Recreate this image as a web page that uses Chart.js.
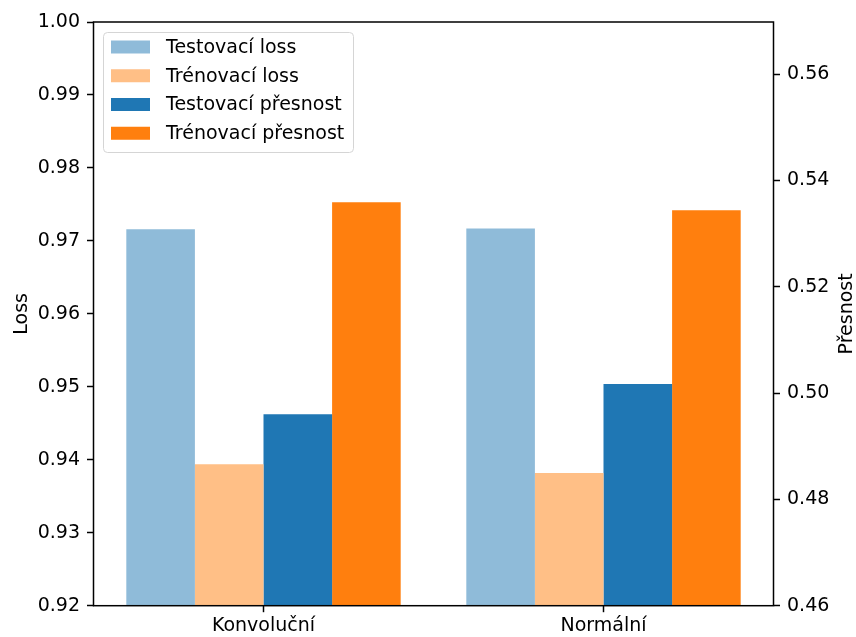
<!DOCTYPE html>
<html>
<head>
<meta charset="utf-8">
<script src="https://cdn.jsdelivr.net/npm/chart.js@4.4.1/dist/chart.umd.min.js"></script>
<style>
  html, body { margin: 0; padding: 0; background: #fff; }
</style>
</head>
<body>
<canvas id="chart" width="856" height="637"></canvas>
<script>
const categories = ['Konvoluční', 'Normální'];
const testLoss = [0.9716, 0.9717];
const trainLoss = [0.9394, 0.9382];
const testAcc = [0.4960, 0.5017];
const trainAcc = [0.5359, 0.5344];
const lossTicks = [0.92, 0.93, 0.94, 0.95, 0.96, 0.97, 0.98, 0.99, 1.00];
const accTicks = [0.46, 0.48, 0.50, 0.52, 0.54, 0.56];

const FONT = '"DejaVu Sans", sans-serif';
const FS = 19;

// frame, legend box and rotated axis titles
const decorations = {
  id: 'decorations',
  afterDatasetsDraw(chart) {
    const { ctx, chartArea: a } = chart;
    ctx.save();
    ctx.strokeStyle = '#000';
    ctx.lineWidth = 1.5;
    ctx.strokeRect(a.left, a.top, a.right - a.left, a.bottom - a.top);
    ctx.restore();
  },
  afterDraw(chart) {
    const { ctx, chartArea: a } = chart;
    const midY = (a.top + a.bottom) / 2;
    ctx.save();
    ctx.font = `${FS}px ${FONT}`;
    ctx.fillStyle = '#000';
    ctx.textAlign = 'center';
    ctx.textBaseline = 'alphabetic';
    [['Loss', 26.7], ['Přesnost', 851.5]].forEach(([text, x]) => {
      ctx.save();
      ctx.translate(x, midY);
      ctx.rotate(-Math.PI / 2);
      ctx.fillText(text, 0, 0);
      ctx.restore();
    });

    // legend
    ctx.beginPath();
    ctx.roundRect(103.5, 32.5, 250, 120, 4);
    ctx.fillStyle = 'rgba(255,255,255,0.8)';
    ctx.fill();
    ctx.strokeStyle = '#d5d5d5';
    ctx.lineWidth = 1;
    ctx.stroke();
    ctx.textAlign = 'left';
    ctx.textBaseline = 'middle';
    chart.data.datasets.forEach((ds, i) => {
      const cy = 47 + i * 28.75;
      ctx.fillStyle = ds.backgroundColor;
      ctx.fillRect(111, cy - 6.5, 39, 13);
      ctx.fillStyle = '#000';
      ctx.fillText(ds.label, 166, cy + 1);
    });
    ctx.restore();
  }
};

const tickGrid = {
  display: true,
  drawOnChartArea: false,
  drawTicks: true,
  tickLength: 6.5,
  tickWidth: 1.5,
  tickColor: '#000'
};

new Chart(document.getElementById('chart'), {
  type: 'bar',
  data: {
    labels: categories,
    datasets: [
      { label: 'Testovací loss', data: testLoss, backgroundColor: '#8fbbd9', yAxisID: 'y' },
      { label: 'Trénovací loss', data: trainLoss, backgroundColor: '#ffbf86', yAxisID: 'y' },
      { label: 'Testovací přesnost', data: testAcc, backgroundColor: '#1f77b4', yAxisID: 'y1' },
      { label: 'Trénovací přesnost', data: trainAcc, backgroundColor: '#ff7f0e', yAxisID: 'y1' }
    ]
  },
  options: {
    responsive: false,
    animation: false,
    categoryPercentage: 0.807,
    barPercentage: 1.0,
    layout: { padding: { top: 22, left: 0, right: 0, bottom: 0 } },
    plugins: {
      legend: { display: false },
      tooltip: { enabled: false }
    },
    scales: {
      x: {
        grid: { ...tickGrid, offset: false },
        border: { display: false },
        ticks: { color: '#000', font: { family: FONT, size: FS }, padding: 2 },
        afterFit: (s) => { s.height = 31.3; }
      },
      y: {
        position: 'left',
        min: 0.92,
        max: 1.0,
        grid: tickGrid,
        border: { display: false },
        ticks: {
          color: '#000',
          font: { family: FONT, size: FS },
          padding: 7,
          callback: (v) => v.toFixed(2)
        },
        afterBuildTicks: (s) => { s.ticks = lossTicks.map((v) => ({ value: v })); },
        afterFit: (s) => { s.width = 93.5; }
      },
      y1: {
        position: 'right',
        min: 0.46,
        max: 0.5698,
        grid: tickGrid,
        border: { display: false },
        ticks: {
          color: '#000',
          font: { family: FONT, size: FS },
          padding: 7,
          callback: (v) => v.toFixed(2)
        },
        afterBuildTicks: (s) => { s.ticks = accTicks.map((v) => ({ value: v })); },
        afterFit: (s) => { s.width = 82.5; }
      }
    }
  },
  plugins: [decorations]
});
</script>
</body>
</html>
